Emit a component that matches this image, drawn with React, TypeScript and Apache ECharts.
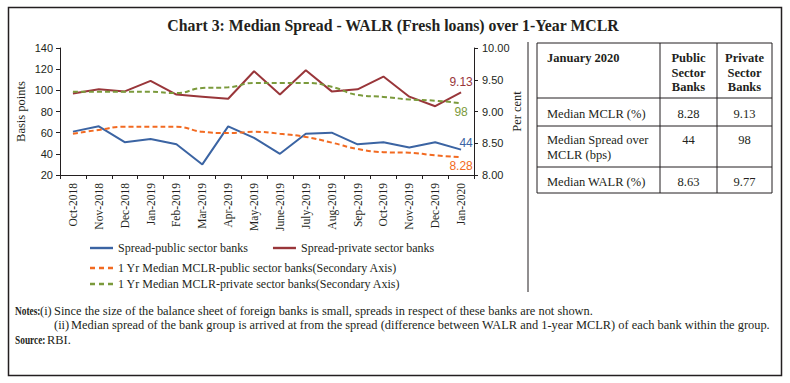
import React, { useEffect, useRef } from "react";
import * as echarts from "echarts";

const categories = [
  "Oct-2018", "Nov-2018", "Dec-2018", "Jan-2019", "Feb-2019", "Mar-2019", "Apr-2019", "May-2019",
  "June-2019", "July-2019", "Aug-2019", "Sep-2019", "Oct-2019", "Nov-2019", "Dec-2019", "Jan-2020",
];
const spreadPublic = [61, 66, 51, 54, 49, 30, 66, 55, 40, 59, 60, 49, 51, 46, 51, 44];
const spreadPrivate = [97, 101, 99, 109, 96, 94, 92, 118, 96, 119, 99, 101, 113, 94, 85, 98];
const mclrPublic = [8.65, 8.71, 8.76, 8.76, 8.76, 8.68, 8.66, 8.68, 8.65, 8.6, 8.51, 8.41, 8.36, 8.35, 8.31, 8.28];
const mclrPrivate = [9.31, 9.31, 9.31, 9.31, 9.29, 9.37, 9.38, 9.45, 9.45, 9.45, 9.39, 9.26, 9.23, 9.19, 9.17, 9.13];

const seriesNames = [
  "Spread-public sector banks",
  "Spread-private sector banks",
  "1 Yr Median MCLR-public sector banks(Secondary Axis)",
  "1 Yr Median MCLR-private sector banks(Secondary Axis)",
];

const leftTicks = { min: 20, max: 140, interval: 20 };
const rightTicks = { min: 8, max: 10, interval: 0.5 };

const tableHeader = ["January 2020", "Public\nSector\nBanks", "Private\nSector\nBanks"];
const tableRows = [
  ["Median MCLR (%)", "8.28", "9.13"],
  ["Median Spread over\nMCLR (bps)", "44", "98"],
  ["Median WALR (%)", "8.63", "9.77"],
];

const title = "Chart 3: Median Spread - WALR (Fresh loans) over 1-Year MCLR";
const note1 = "Since the size of the balance sheet of foreign banks is small, spreads in respect of these banks are not shown.";
const note2 = "Median spread of the bank group is arrived at from the spread (difference between WALR and 1-year MCLR) of each bank within the group.";

const SERIF = "'Liberation Serif', 'DejaVu Serif', serif";
const SANS = "'Liberation Sans', 'DejaVu Sans', sans-serif";
const INK = "#231f20";

const BLUE = "#3b64a3";
const RED = "#99363a";
const ORANGE = "#f26a21";
const GREEN = "#7b9a3c";

const SOLID_ICON = "path://M0,0h23v2.4h-23z";
const DASH_ICON = "path://M0,0h5v2.4h-5z M9,0h5v2.4h-5z M18,0h5v2.4h-5z";

function endLabel(values: number[], fmt: (v: number) => string, label: any) {
  return values.map((v, i) =>
    i === values.length - 1
      ? { value: v, label: { show: true, formatter: () => fmt(v), fontFamily: SANS, fontSize: 12, ...label } }
      : v
  );
}

export default function App() {
  const ref = useRef<HTMLDivElement>(null);
  useEffect(() => {
    if (!ref.current) return;
    const chart = echarts.init(ref.current, undefined, { renderer: "svg" });

    const colX = [537, 660, 717, 772];
    const rowY = [43, 98, 126, 167, 193];
    const tableEls: any[] = [];
    rowY.forEach((y) =>
      tableEls.push({ type: "line", shape: { x1: colX[0], y1: y, x2: colX[3], y2: y }, style: { stroke: INK, lineWidth: 1 } })
    );
    colX.forEach((x) =>
      tableEls.push({ type: "line", shape: { x1: x, y1: rowY[0], x2: x, y2: rowY[4] }, style: { stroke: INK, lineWidth: 1 } })
    );
    const colCenters = [0, (colX[1] + colX[2]) / 2, (colX[2] + colX[3]) / 2];
    tableHeader.forEach((t, i) => {
      tableEls.push({
        type: "text",
        x: i === 0 ? 547 : colCenters[i],
        y: 51,
        style: {
          text: t, font: `bold 12.5px ${SERIF}`, fill: INK, align: i === 0 ? "left" : "center",
          verticalAlign: "top", lineHeight: 14.5,
        },
      });
    });
    const rowTextY = [106, 132, 174];
    tableRows.forEach((r, ri) => {
      r.forEach((t, i) => {
        tableEls.push({
          type: "text",
          x: i === 0 ? 547 : colCenters[i],
          y: rowTextY[ri],
          style: {
            text: t, font: `12.5px ${SERIF}`, fill: INK, align: i === 0 ? "left" : "center",
            verticalAlign: "top", lineHeight: 15,
          },
        });
      });
    });

    const legendText = { fontFamily: SERIF, fontSize: 12, color: INK };
    const noteFont = `12.4px ${SERIF}`;

    chart.setOption({
      animation: false,
      backgroundColor: "#ffffff",
      grid: { left: 60, right: 316, top: 48, bottom: 208, containLabel: false },
      legend: [
        {
          data: [
            { name: seriesNames[0], icon: SOLID_ICON },
            { name: seriesNames[1], icon: SOLID_ICON },
          ],
          left: 85, top: 237, itemWidth: 23, itemHeight: 2.4, itemGap: 25,
          textStyle: legendText,
        },
        {
          data: [
            { name: seriesNames[2], icon: DASH_ICON },
            { name: seriesNames[3], icon: DASH_ICON },
          ],
          left: 85, top: 257, orient: "vertical", itemWidth: 23, itemHeight: 2.4, itemGap: 4,
          textStyle: legendText,
        },
      ],
      xAxis: {
        type: "category",
        data: categories,
        boundaryGap: true,
        axisLine: { lineStyle: { color: INK, width: 1 } },
        axisTick: { show: true, interval: 0, length: 4, lineStyle: { color: INK } },
        axisLabel: { rotate: 90, interval: 0, margin: 8, fontFamily: SERIF, fontSize: 11.5, color: INK },
      },
      yAxis: [
        {
          type: "value", ...leftTicks,
          name: "Basis points", nameLocation: "middle", nameGap: 33, nameRotate: 90, nameMoveOverlap: false,
          nameTextStyle: { fontFamily: SERIF, fontSize: 12.5, color: INK },
          axisLine: { show: true, lineStyle: { color: INK, width: 1 } },
          axisTick: { show: true, length: 4, lineStyle: { color: INK } },
          axisLabel: { margin: 7, fontFamily: SANS, fontSize: 11, color: INK },
          splitLine: { show: false },
        },
        {
          type: "value", ...rightTicks, position: "right",
          name: "Per cent", nameLocation: "middle", nameGap: 36, nameRotate: 90, nameMoveOverlap: false,
          nameTextStyle: { fontFamily: SERIF, fontSize: 12.5, color: INK },
          axisLine: { show: true, lineStyle: { color: INK, width: 1 } },
          axisTick: { show: true, length: 4, lineStyle: { color: INK } },
          axisLabel: { margin: 8, fontFamily: SANS, fontSize: 11, color: INK, formatter: (v: number) => v.toFixed(2) },
          splitLine: { show: false },
        },
      ],
      series: [
        {
          name: seriesNames[0], type: "line", yAxisIndex: 0, symbol: "circle", symbolSize: 0.1, color: BLUE,
          lineStyle: { width: 2, color: BLUE },
          data: endLabel(spreadPublic, (v) => String(v), { position: "top", distance: 1, offset: [5, 0], color: BLUE }),
        },
        {
          name: seriesNames[1], type: "line", yAxisIndex: 0, symbol: "circle", symbolSize: 0.1, color: RED,
          lineStyle: { width: 2, color: RED },
          data: endLabel(spreadPrivate, (v) => String(v), { position: "bottom", distance: 13, color: GREEN }),
        },
        {
          name: seriesNames[2], type: "line", yAxisIndex: 1, symbol: "circle", symbolSize: 0.1, smooth: true, color: ORANGE,
          lineStyle: { width: 2, color: ORANGE, type: [5, 3] },
          data: endLabel(mclrPublic, (v) => v.toFixed(2), { position: "bottom", distance: 3, color: ORANGE }),
        },
        {
          name: seriesNames[3], type: "line", yAxisIndex: 1, symbol: "circle", symbolSize: 0.1, smooth: true, color: GREEN,
          lineStyle: { width: 2, color: GREEN, type: [5, 3] },
          data: endLabel(mclrPrivate, (v) => v.toFixed(2), { position: "top", distance: 15, color: RED }),
        },
      ],
      graphic: {
        elements: [
          { type: "rect", shape: { x: 8.5, y: 7.5, width: 773, height: 368 }, style: { fill: "none", stroke: INK, lineWidth: 1.5 } },
          { type: "line", shape: { x1: 528, y1: 42, x2: 528, y2: 292 }, style: { stroke: INK, lineWidth: 1 } },
          {
            type: "text", x: 393, y: 25,
            style: { text: title, font: `bold 15.8px ${SERIF}`, fill: INK, align: "center", verticalAlign: "middle" },
          },
          ...tableEls,
          { type: "text", x: 15, y: 311, scaleX: 0.78, style: { text: "Notes:", font: `bold 12px ${SERIF}`, fill: INK, verticalAlign: "middle" } },
          { type: "text", x: 40, y: 311, style: { text: "(i)", font: noteFont, fill: INK, verticalAlign: "middle" } },
          { type: "text", x: 54, y: 311, style: { text: note1, font: noteFont, fill: INK, verticalAlign: "middle" } },
          { type: "text", x: 54, y: 325, style: { text: "(ii)", font: noteFont, fill: INK, verticalAlign: "middle" } },
          { type: "text", x: 71, y: 325, style: { text: note2, font: noteFont, fill: INK, verticalAlign: "middle" } },
          { type: "text", x: 15, y: 340, scaleX: 0.78, style: { text: "Source:", font: `bold 12px ${SERIF}`, fill: INK, verticalAlign: "middle" } },
          { type: "text", x: 47, y: 340, style: { text: "RBI.", font: noteFont, fill: INK, verticalAlign: "middle" } },
        ],
      },
    });
    return () => chart.dispose();
  }, []);
  return <div ref={ref} style={{ position: "absolute", left: 0, top: 0, width: 790, height: 383 }} />;
}
